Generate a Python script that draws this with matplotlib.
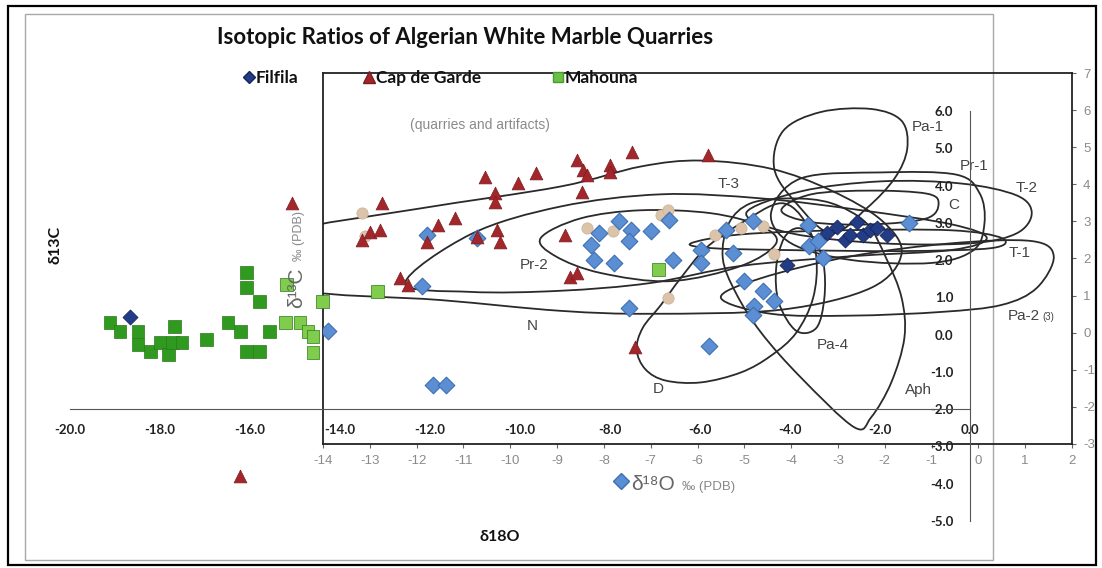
import matplotlib
matplotlib.use('Agg')
import matplotlib.pyplot as plt
import numpy as np
from matplotlib.path import Path
from matplotlib.patches import PathPatch, Rectangle
from matplotlib.lines import Line2D

plt.rcParams['axes.unicode_minus'] = False

# ---------------- data (main chart: Algerian quarries) ----------------
filfila_x = [-18.67, -3.18, -2.96, -2.78, -2.67, -2.51, -2.38, -2.22, -2.07, -1.84, -4.07]
filfila_y = [0.48, 2.73, 2.90, 2.55, 2.68, 3.03, 2.68, 2.82, 2.87, 2.68, 1.88]

capgarde_x = [-15.07, -16.22, -13.51, -13.33, -13.11, -13.07, -11.82, -11.44, -12.07, -12.67,
              -12.49, -10.96, -10.78, -10.56, -10.56, -10.51, -10.44, -10.04, -9.64, -9.00,
              -8.73, -8.60, -8.51, -8.62, -8.89, -8.73, -8.00, -8.00, -7.51, -5.82, -7.44]
capgarde_y = [3.54, -3.78, 2.55, 2.76, 2.82, 3.54, 2.95, 3.14, 2.49, 1.53,
              1.34, 2.63, 4.24, 3.81, 3.57, 2.82, 2.49, 4.08, 4.34, 2.68,
              4.69, 4.42, 4.29, 3.83, 1.55, 1.66, 4.56, 4.37, 4.91, 4.83, -0.32]

mahouna_x = [-19.11, -18.89, -18.49, -18.49, -18.22, -18.00, -17.82, -17.67, -17.73, -17.51,
             -16.96, -16.49, -16.22, -16.07, -16.07, -15.78, -16.07, -15.78, -15.56, -15.18,
             -15.22, -14.89, -14.71, -14.60, -14.60, -14.38, -13.16, -6.93]
mahouna_y = [0.32, 0.08, 0.08, -0.27, -0.46, -0.21, -0.54, 0.21, -0.21, -0.21,
             -0.13, 0.32, 0.08, 1.66, 1.26, 0.88, -0.46, -0.46, 0.08, 1.34,
             0.32, 0.32, 0.08, -0.48, -0.05, 0.88, 1.15, 1.74]

main_xticks = [-20, -18, -16, -14, -12, -10, -8, -6, -4, -2, 0]
main_yticks = [-5, -4, -3, -2, -1, 0, 1, 2, 3, 4, 5, 6]
legend_labels = ['Filfila', 'Cap de Garde', 'Mahouna']

# ---------------- data (inset: reference fields, quarries and artifacts) ----------------
art_x = [-13.89, -11.64, -11.37, -11.88, -11.77, -10.70, -8.28, -8.11, -7.68, -7.43,
         -7.47, -7.00, -6.61, -8.22, -7.79, -6.53, -5.93, -5.93, -5.39, -4.81,
         -5.24, -7.47, -5.76, -5.01, -4.60, -4.36, -4.79, -4.81, -3.64, -3.61,
         -3.42, -3.31, -1.49]
art_y = [0.05, -1.42, -1.42, 1.26, 2.63, 2.55, 2.36, 2.68, 3.00, 2.76,
         2.47, 2.73, 3.03, 1.96, 1.88, 1.96, 2.23, 1.88, 2.76, 3.00,
         2.14, 0.67, -0.35, 1.39, 1.13, 0.86, 0.72, 0.48, 2.90, 2.33,
         2.47, 2.01, 2.95]

tan_x = [-13.16, -13.10, -8.35, -7.81, -6.78, -6.63, -6.63, -5.63, -5.07, -4.60, -4.36]
tan_y = [3.22, 2.60, 2.82, 2.73, 3.16, 3.30, 0.94, 2.63, 2.82, 2.87, 2.12]

inset_xticks = list(range(-14, 3))
inset_yticks = list(range(-3, 8))

fields = {
    'N': ([-14.71, -11.92, -8.93, -7.21, -5.93, -4.43, -3.14, -2.07, -1.64, -2.29, -4.21, -7.00, -8.93, -11.49, -14.49, -15.13],
          [2.73, 3.35, 3.94, 4.48, 4.64, 4.42, 3.83, 3.03, 2.14, 1.21, 0.62, 0.51, 0.59, 0.88, 1.15, 1.96]),
    'T-3': ([-12.24, -10.85, -8.93, -6.78, -4.64, -2.50, -0.57, 0.18, -0.57, -2.72, -5.07, -7.00, -8.93, -10.85],
            [1.34, 2.65, 3.40, 3.73, 3.62, 3.30, 2.92, 2.55, 2.23, 2.06, 1.80, 1.34, 1.13, 1.10]),
    'Pr-2': ([-9.35, -8.50, -7.21, -5.71, -4.64, -4.32, -5.07, -6.57, -8.07, -9.03],
             [2.55, 3.08, 3.30, 3.22, 2.87, 2.41, 1.80, 1.39, 1.61, 2.06]),
    'Pa-1': ([-3.14, -3.89, -4.36, -4.17, -3.36, -2.29, -1.64, -1.52, -1.79, -2.39],
             [2.68, 3.49, 4.42, 5.44, 5.95, 6.03, 5.71, 4.96, 4.16, 3.35]),
    'Pr-1': ([-4.43, -3.79, -2.07, -0.47, 0.03, 0.13, -0.10, -1.00, -2.72, -4.00],
             [3.22, 4.16, 4.32, 4.26, 3.75, 2.95, 2.23, 1.88, 1.96, 2.41]),
    'T-2': ([-4.96, -3.79, -2.07, -0.36, 0.82, 1.14, 0.82, -0.15, -2.07, -4.00],
            [3.22, 3.81, 4.08, 4.02, 3.70, 3.22, 2.68, 2.41, 2.41, 2.68]),
    'C': ([-4.21, -3.57, -2.29, -1.11, -0.85, -1.11, -2.29, -3.57],
          [3.30, 3.73, 3.83, 3.75, 3.49, 3.08, 2.92, 2.98]),
    'T-1': ([-6.14, -5.07, -2.93, -0.57, 0.50, 0.28, -1.64, -4.21, -5.71],
            [2.41, 2.65, 2.76, 2.76, 2.55, 2.28, 2.20, 2.23, 2.28]),
    'Pa-2(3)': ([-5.50, -4.64, -2.72, -0.57, 1.14, 1.61, 1.25, 0.50, -0.79, -2.72, -4.43],
                [0.94, 1.47, 2.06, 2.41, 2.47, 2.06, 1.21, 0.75, 0.56, 0.46, 0.51]),
    'Aph': ([-2.65, -3.79, -4.64, -5.18, -5.46, -5.33, -4.86, -4.00, -3.14, -2.39, -1.97, -1.64, -1.58, -1.86, -2.29],
            [-2.55, -1.21, 0.00, 1.07, 2.01, 2.95, 3.49, 3.62, 3.49, 2.95, 2.01, 0.94, -0.13, -1.34, -2.28]),
    'D': ([-4.21, -5.07, -5.82, -6.36, -6.78, -7.17, -7.30, -7.11, -6.68, -5.93, -5.07, -4.43, -3.89, -3.53, -3.46, -3.68],
          [3.49, 2.95, 2.28, 1.47, 0.75, 0.13, -0.46, -0.99, -1.29, -1.34, -1.07, -0.62, 0.00, 0.94, 2.01, 2.95]),
    'Pa-4': ([-3.85, -4.15, -4.32, -4.26, -3.89, -3.46, -3.29, -3.31, -3.53],
             [2.82, 2.55, 1.74, 0.80, 0.05, 0.13, 0.94, 1.88, 2.55]),
}

field_labels = ['Pa-1', 'Pr-1', 'T-2', 'C', 'T-3', 'Pr-2', 'T-1', 'N', 'Pa-2', 'Pa-4', 'D', 'Aph']
field_label_x = [-1.07, -0.10, 1.03, -0.53, -5.33, -9.50, 0.88, -9.52, 0.97, -3.10, -6.83, -1.28]
field_label_y = [5.55, 4.50, 3.89, 3.43, 4.02, 1.82, 2.14, 0.19, 0.46, -0.32, -1.53, -1.55]

# ---------------- helpers ----------------
W, H = 1102, 568
def fx(p):
    return p / W
def fy(p):
    return 1 - p / H

def closed_smooth(xs, ys):
    P = np.column_stack([xs, ys])
    n = len(P)
    verts = [P[0]]
    codes = [Path.MOVETO]
    for i in range(n):
        p0, p1, p2, p3 = P[i - 1], P[i], P[(i + 1) % n], P[(i + 2) % n]
        c1 = p1 + (p2 - p0) / 6.0
        c2 = p2 - (p3 - p1) / 6.0
        verts += [c1, c2, p2]
        codes += [Path.CURVE4] * 3
    return Path(verts, codes)

fig = plt.figure(figsize=(W / 100, H / 100), dpi=100)

# outer frames
fig.add_artist(Rectangle((fx(8), fy(565)), fx(1096) - fx(8), fy(6) - fy(565),
                         transform=fig.transFigure, fill=False, ec='black', lw=1.6))
fig.add_artist(Rectangle((fx(25), fy(560)), fx(993) - fx(25), fy(14) - fy(560),
                         transform=fig.transFigure, fill=False, ec='#a8a8a8', lw=1.0))

# ---------------- inset axes ----------------
axi = fig.add_axes([fx(323), fy(444), fx(1072) - fx(323), fy(73) - fy(444)])
axi.set_facecolor('none')
axi.set_zorder(1)
axi.set_xlim(-14, 2)
axi.set_ylim(-3, 7)
for s in axi.spines.values():
    s.set_color('#222222')
    s.set_linewidth(1.3)
axi.yaxis.tick_right()
axi.set_xticks(inset_xticks)
axi.set_yticks(inset_yticks)
axi.tick_params(axis='both', direction='out', length=3, color='#666666',
                labelcolor='#8a8a8a', labelsize=9.5, pad=5)
for lbl in axi.get_xticklabels() + axi.get_yticklabels():
    lbl.set_family('Liberation Sans')

for name, (xs, ys) in fields.items():
    axi.add_patch(PathPatch(closed_smooth(xs, ys), fill=False, ec='#2a2a2a', lw=1.3))

axi.scatter(tan_x, tan_y, marker='o', s=65, c='#dcc4ab', edgecolors='#cfb59a', linewidths=0.6, zorder=3)
axi.scatter(art_x, art_y, marker='D', s=72, c='#5b8ed3', edgecolors='#3f6fb3', linewidths=0.8, zorder=4)

for t, x, y in zip(field_labels, field_label_x, field_label_y):
    axi.text(x, y, t, fontsize=11, color='#444444', family='Liberation Sans', ha='center', va='center')
    if t == 'Pa-2':
        axi.text(x + 0.40, y - 0.05, '(3)', fontsize=7, color='#444444', family='Liberation Sans',
                 ha='left', va='center')

# ---------------- main axes ----------------
ax = fig.add_axes([fx(70), fy(521), fx(970) - fx(70), fy(111) - fy(521)])
ax.set_facecolor('none')
ax.set_zorder(2)
ax.set_xlim(-20, 0)
ax.set_ylim(-5, 6)
ax.spines['top'].set_visible(False)
ax.spines['right'].set_visible(False)
ax.spines['left'].set_position(('data', 0))
ax.spines['bottom'].set_position(('data', -2))
ax.spines['left'].set_color('#555555')
ax.spines['bottom'].set_color('#555555')
ax.set_xticks(main_xticks)
ax.set_xticklabels([f'{v:.1f}' for v in main_xticks])
ax.set_yticks(main_yticks)
ax.set_yticklabels([f'{v:.1f}' for v in main_yticks])
ax.tick_params(axis='x', length=0, pad=11, labelsize=9.5)
ax.tick_params(axis='y', length=0, pad=12, labelsize=9.5)
for lbl in ax.get_xticklabels() + ax.get_yticklabels():
    lbl.set_fontweight('bold')
    lbl.set_family('Lato')
    lbl.set_color('#222222')

mcol = ['#2f9a1f' if x < -15.3 else '#80cc4c' for x in mahouna_x]
ax.scatter(mahouna_x, mahouna_y, marker='s', s=85, c=mcol, edgecolors='#2a7a18', linewidths=0.5, zorder=3, clip_on=False)
ax.scatter(capgarde_x, capgarde_y, marker='^', s=85, c='#a3262b', edgecolors='#7a1c20', linewidths=0.5, zorder=4, clip_on=False)
ax.scatter(filfila_x, filfila_y, marker='D', s=58, c='#223c86', edgecolors='#15255a', linewidths=0.6, zorder=5, clip_on=False)

# ---------------- texts ----------------
fig.text(fx(465), fy(38), 'Isotopic Ratios of Algerian White Marble Quarries', ha='center', va='center',
         fontsize=16, fontweight='bold', family='Lato', color='#111111')
fig.text(fx(56), fy(245), 'δ13C', rotation=90, ha='center', va='center', fontsize=11.5,
         fontweight='bold', family='Lato', color='#111111')
fig.text(fx(500), fy(537), 'δ18O', ha='center', va='center', fontsize=11.5,
         fontweight='bold', family='Lato', color='#111111')

fig.text(fx(480), fy(125), '(quarries and artifacts)', ha='center', va='center', fontsize=10,
         family='Liberation Sans', color='#8a8a8a')
fig.text(fx(297), fy(288), 'δ¹³C', rotation=90, ha='center', va='center', fontsize=15,
         family='Liberation Sans', color='#666666')
fig.text(fx(299), fy(236), '‰ (PDB)', rotation=90, ha='center', va='center', fontsize=9,
         family='Liberation Sans', color='#888888')

# inset legend
fig.lines.append(Line2D([fx(621)], [fy(481)], marker='D', ms=8.5, color='#5b8ed3', mec='#3f6fb3',
                        transform=fig.transFigure, figure=fig))
fig.text(fx(631), fy(485), 'δ¹⁸O', ha='left', va='center', fontsize=15,
         family='Liberation Sans', color='#666666')
fig.text(fx(682), fy(487), '‰ (PDB)', ha='left', va='center', fontsize=9.5,
         family='Liberation Sans', color='#888888')

# main legend (three entries laid out like the original)
leg_marker = ['D', '^', 's']
leg_ms = [6.5, 8.5, 7.5]
leg_col = ['#223c86', '#a3262b', '#6cc04a']
leg_mec = ['#15255a', '#7a1c20', '#4a9a2c']
leg_mx = [249, 369, 558]
for lab, mk, ms, c, mec, px in zip(legend_labels, leg_marker, leg_ms, leg_col, leg_mec, leg_mx):
    fig.lines.append(Line2D([fx(px)], [fy(77)], marker=mk, ms=ms, color=c, mec=mec,
                            transform=fig.transFigure, figure=fig, zorder=10))
    fig.text(fx(px + 7), fy(78), lab, ha='left', va='center', fontsize=12.5, fontweight='bold',
             family='Lato', color='#111111', zorder=10)

fig.savefig('out.png', dpi=100)
